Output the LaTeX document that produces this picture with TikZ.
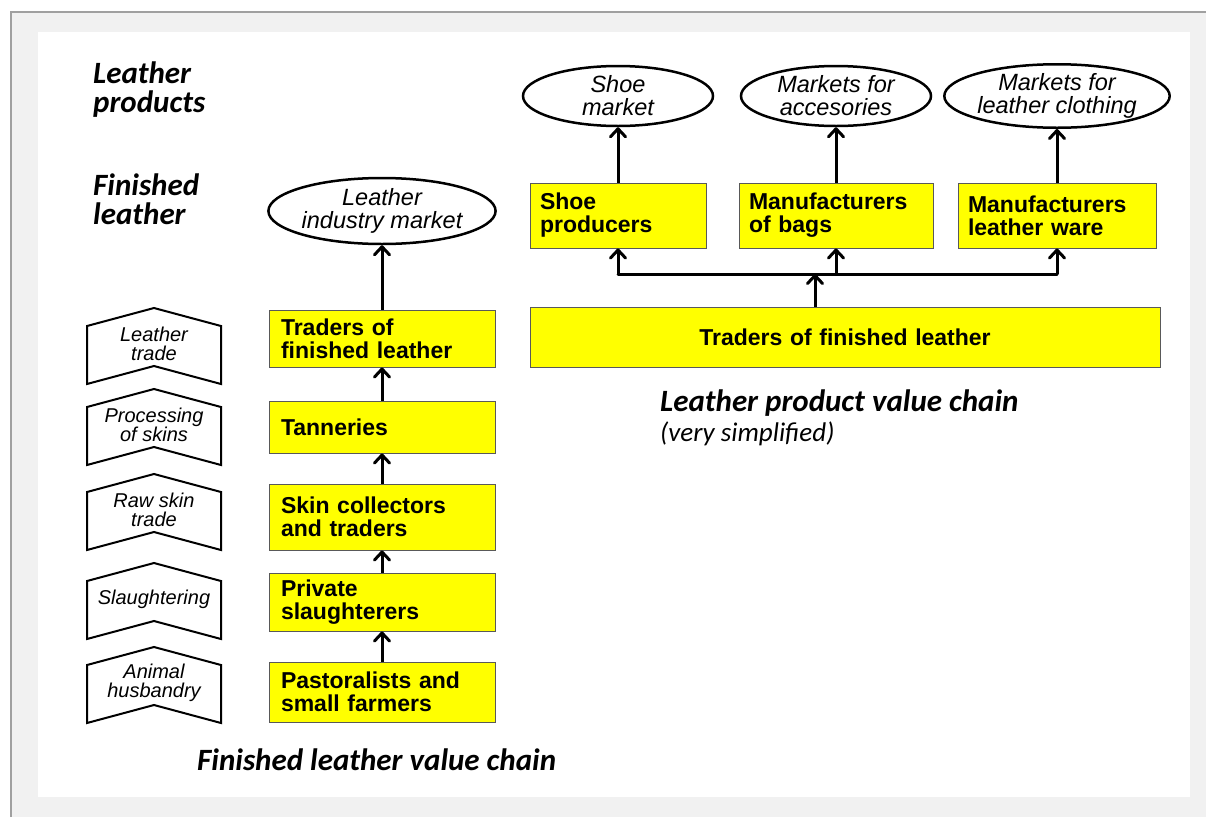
\documentclass[tikz,border=0pt]{standalone}
\usepackage{fontspec}
\setmainfont{Liberation Sans}
\newfontfamily\headfont{Carlito}
\usetikzlibrary{arrows.meta, positioning, shapes.geometric}
\definecolor{pagegray}{RGB}{241,241,241}
\definecolor{framegray}{RGB}{160,160,160}
\definecolor{chainyellow}{RGB}{255,255,0}

\begin{document}
\begin{tikzpicture}[x=1pt, y=-1pt,
    flow/.style={-{Straight Barb[length=8pt, width=15pt, round]}, line width=3pt},
    chainbox/.style={draw=black!65, line width=1pt, fill=chainyellow, inner xsep=12pt, inner ysep=0pt,
                     font=\fontsize{23}{23}\selectfont\bfseries, align=left},
    market/.style={ellipse, draw, line width=2.5pt, fill=white, inner sep=0pt, align=center,
                   font=\fontsize{23.5}{23}\selectfont\itshape},
    stage/.style={draw, line width=2pt, fill=white},
    stagetext/.style={inner sep=0pt, align=center, font=\fontsize{20}{19}\selectfont\itshape},
    heading/.style={inner sep=0pt, anchor=north west, align=left,
                    font=\headfont\fontsize{31}{28.5}\selectfont\bfseries\itshape}
]

    % Page background and frame
    \useasboundingbox (0,0) rectangle (1206,817);
    \fill[pagegray] (11,12) rectangle (1206,817);
    \draw[framegray, line width=1.5pt] (11,817) -- (11,12) -- (1206,12);
    \fill[white] (38,32) rectangle (1190,797);

    % Level labels
    \node[heading] (lbl_products) at (93,62) {Leather\\products};
    \node[heading] (lbl_finished) at (93,174) {Finished\\leather};

    % Stages of the finished leather chain (chevrons)
    \foreach \t/\lbl [count=\i] in {308/{Leather\\trade}, 389/{Processing\\of skins}, 474/{Raw skin\\trade},
                                     563/{Slaughtering}, 647/{Animal\\husbandry}} {
        \draw[stage] (154,\t) -- (221,\t+18) -- (221,\t+76) -- (154,\t+58) -- (87,\t+76) -- (87,\t+18) -- cycle;
        \node[stagetext] (stage\i) at (154,\t+36) {\lbl};
    }

    % Finished leather value chain
    \node[market, minimum width=196pt, minimum height=66pt] (industry) at (382,211) {Leather\\industry market};
    \node[chainbox, text width=202pt, minimum height=57pt] (ltraders) at (382,338.5) {Traders of\\finished leather};
    \node[chainbox, text width=202pt, minimum height=52pt] (tanneries) at (382,427) {Tanneries};
    \node[chainbox, text width=202pt, minimum height=66pt] (skincoll) at (382,517) {Skin collectors\\and traders};
    \node[chainbox, text width=202pt, minimum height=58pt] (slaughter) at (382,602) {Private\\slaughterers};
    \node[chainbox, text width=202pt, minimum height=60pt] (pastoral) at (382,692) {Pastoralists and\\small farmers};

    \node[heading] (title_left) at (197,749) {Finished leather value chain};

    % Leather product value chain
    \node[market, minimum width=190pt, minimum height=60pt] (shoemkt) at (618,96) {Shoe\\market};
    \node[market, minimum width=190pt, minimum height=60pt] (accmkt) at (836,96) {Markets for\\accesories};
    \node[market, minimum width=198pt, minimum height=60pt] (clothmkt) at (1057,96) {Markets for\\leather clothing};

    \node[chainbox, inner xsep=10pt, text width=156pt, minimum height=65pt] (shoebox) at (618,215.5) {Shoe\\producers};
    \node[chainbox, inner xsep=10pt, text width=174pt, minimum height=65pt] (bagbox) at (836,215.5) {Manufacturers\\of bags};
    \node[chainbox, inner xsep=10pt, text width=178pt, minimum height=65pt] (warebox) at (1057,215.5) {Manufacturers\\leather ware};

    \node[chainbox, align=center, text width=606pt, minimum height=60pt] (rtraders) at (845,337) {Traders of finished leather};

    \node[heading] (title_right) at (660,390) {Leather product value chain};
    \node[heading, font=\headfont\fontsize{27}{27}\selectfont\itshape] (title_note) at (660,422) {(very simplified)};

    % Connections, left chain
    \draw[flow] (pastoral) -- (slaughter);
    \draw[flow] (slaughter) -- (skincoll);
    \draw[flow] (skincoll) -- (tanneries);
    \draw[flow] (tanneries) -- (ltraders);
    \draw[flow] (ltraders) -- (industry);

    % Connections, right chain
    \coordinate (split) at (815,274);
    \draw[flow] (rtraders.north -| split) -- (split);
    \draw[line width=3pt, line cap=round] (shoebox.south |- split) -- (warebox.south |- split);
    \foreach \b/\m in {shoebox/shoemkt, bagbox/accmkt, warebox/clothmkt} {
        \draw[flow] (\b.south |- split) -- (\b.south);
        \draw[flow] (\b) -- (\m);
    }

\end{tikzpicture}
\end{document}
